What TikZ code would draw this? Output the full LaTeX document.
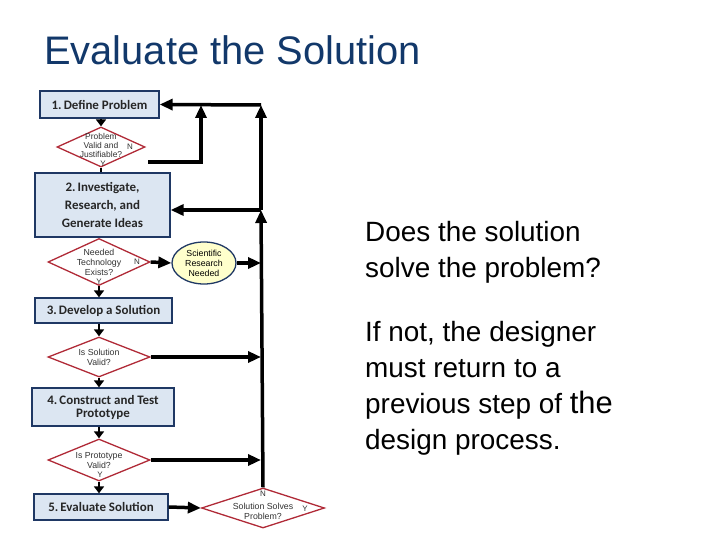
\documentclass[tikz,border=0pt]{standalone}
\usepackage{fontspec}
\setmainfont{Liberation Sans}
\newfontfamily\stepfont{Carlito}
\usetikzlibrary{arrows.meta,shapes.geometric}
\definecolor{titleblue}{HTML}{12386A}
\definecolor{stepfill}{HTML}{DCE6F2}
\definecolor{stepline}{HTML}{1F3864}
\definecolor{queryline}{HTML}{B02A37}
\definecolor{notefill}{HTML}{FFFFCC}
\begin{document}
\begin{tikzpicture}[x=1bp,y=-1bp,
    stepbox/.style={draw=stepline,line width=1.3bp,fill=stepfill,inner sep=0pt,align=center,
      font=\stepfont\bfseries\fontsize{13}{18}\selectfont,text=black!85},
    query/.style={diamond,draw=queryline,line width=1.3bp,fill=white,inner sep=0pt},
    qtext/.style={inner sep=0pt,align=center,font=\fontsize{8.8}{10}\selectfont,text=black!80},
    yn/.style={inner sep=0pt,font=\fontsize{8}{8}\selectfont,text=black!80},
    flow/.style={line width=3.5bp,-{Triangle[length=13bp,width=11bp]}},
    vlink/.style={line width=2.5bp,-{Triangle[length=7bp,width=10bp]}}]
  \useasboundingbox (0,0) rectangle (720,540);
  \node[anchor=base west,inner sep=0pt,text=titleblue,font=\fontsize{40}{42}\selectfont] (title) at (44,65) {Evaluate the Solution};

  \node[stepbox,minimum width=119bp,minimum height=27bp] (s1) at (99.5,104.5) {1.\,Define Problem};
  \node[query,minimum width=88bp,minimum height=40bp] (d1) at (101,147) {};
  \node[qtext,font=\fontsize{8.5}{9.5}\selectfont] (d1t) at (101,145.5) {Problem\\Valid and\\Justifiable?};
  \node[stepbox,minimum width=135bp,minimum height=64bp] (s2) at (102.5,205) {2.\,Investigate,\\Research, and\\Generate Ideas};
  \node[query,minimum width=102bp,minimum height=47bp] (d2) at (99,262) {};
  \node[qtext] (d2t) at (d2) {Needed\\Technology\\Exists?};
  \node[ellipse,draw=stepline,line width=1.3bp,fill=notefill,inner sep=0pt,minimum width=64bp,minimum height=42bp,
    align=center,font=\fontsize{8.8}{10}\selectfont] (sci) at (204,263) {Scientific\\Research\\Needed};
  \node[stepbox,minimum width=137bp,minimum height=25bp] (s3) at (103.5,310.5) {3.\,Develop a Solution};
  \node[query,minimum width=102bp,minimum height=40bp] (d3) at (99,357) {};
  \node[qtext] (d3t) at (d3) {Is Solution\\Valid?};
  \node[stepbox,minimum width=142bp,minimum height=38bp,font=\stepfont\bfseries\fontsize{13}{13}\selectfont] (s4) at (103,407) {4.\,Construct and Test\\Prototype};
  \node[query,minimum width=102bp,minimum height=42bp] (d4) at (99,460) {};
  \node[qtext] (d4t) at (99,461) {Is Prototype\\Valid?};
  \node[stepbox,minimum width=134bp,minimum height=26bp] (s5) at (101,507) {5.\,Evaluate Solution};
  \node[query,minimum width=123bp,minimum height=40bp] (d5) at (263,508) {};
  \node[qtext] (d5t) at (263,511) {Solution Solves\\Problem?};

  \node[yn] (n1) at (130,147) {N};
  \node[yn] (y1) at (103,163.5) {Y};
  \node[yn] (n2) at (137,262) {N};
  \node[yn] (y2) at (99,282) {Y};
  \node[yn] (y4) at (100,475) {Y};
  \node[yn] (n5) at (263,494) {N};
  \node[yn] (y5) at (305,509) {Y};

  \coordinate (jtop) at (261,105);
  \coordinate (jmid) at (261,210);
  \coordinate (jin) at (201,105);
  \coordinate (nout) at (148,162);

  \draw[flow] (d5.north) -- (jmid);
  \draw[flow] (jmid) -- (jtop);
  \draw[flow] (jtop) -- (s1.east);
  \draw[flow] (jmid) -- (jmid -| s2.east);
  \draw[flow] (nout) -| (jin);
  \draw[flow] (d2.east) -- (sci.west);
  \draw[flow] (sci.east) -- (sci.east -| jmid);
  \draw[flow] (d3.east) -- (d3.east -| jmid);
  \draw[flow] (d4.east) -- (d4.east -| jmid);
  \draw[flow] (s5.east) -- (d5.west);

  \draw[vlink] (s1.south -| d1.north) -- (d1.north);
  \draw[line width=2.5bp] (d1.south) -- (d1.south |- s2.north);
  \draw[vlink] (d2.south) -- (d2.south |- s3.north);
  \draw[vlink] (s3.south -| d3.north) -- (d3.north);
  \draw[vlink] (d3.south) -- (d3.south |- s4.north);
  \draw[vlink] (s4.south -| d4.north) -- (d4.north);
  \draw[vlink] (d4.south) -- (d4.south |- s5.north);

  \node[anchor=north west,inner sep=0pt,align=left,font=\fontsize{28}{36}\selectfont] (note) at (365,221.5)
    {Does the solution\\solve the problem?\\[28bp]If not, the designer\\must return to a\\previous step of {\fontsize{31}{36}\selectfont the}\\design process.};
\end{tikzpicture}
\end{document}
